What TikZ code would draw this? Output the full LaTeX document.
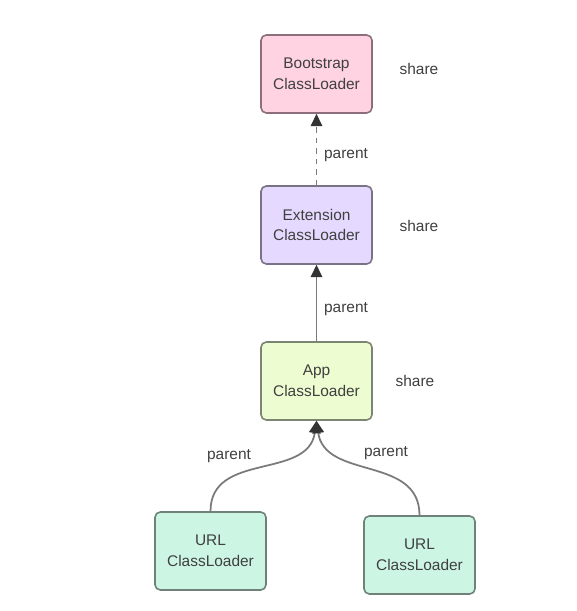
\documentclass[tikz,border=0pt]{standalone}
\usepackage{fontspec}
\setmainfont{Liberation Sans}
\usepackage{xcolor}
\usepackage{tikz}
\usetikzlibrary{arrows.meta,positioning,calc}
\definecolor{bootfill}{HTML}{FFD3E1}
\definecolor{bootline}{HTML}{8C6E7C}
\definecolor{extfill}{HTML}{E6D9FF}
\definecolor{extline}{HTML}{7A7388}
\definecolor{appfill}{HTML}{EEFCD2}
\definecolor{appline}{HTML}{7C8472}
\definecolor{urlfill}{HTML}{CCF6E3}
\definecolor{urlline}{HTML}{6F8279}
\definecolor{linkgray}{HTML}{7A7A7A}
\tikzset{loader/.style={draw,rectangle,rounded corners=3pt,line width=0.9pt,minimum width=2.22cm,minimum height=1.56cm,align=center,text=black!75,font=\fontsize{8.8}{11.8}\selectfont}}

\begin{document}
\begin{tikzpicture}[x=0.02cm, y=-0.02cm, >={Triangle[length=7pt,width=6.5pt,color=black!80]}, semithick]
        \tikzstyle{lbl}=[text=black!75,font=\fontsize{8.8}{11}\selectfont]
        \tikzstyle{link}=[draw=linkgray,line width=1pt,->]
        \useasboundingbox (0,0) rectangle (576,611);
        \node[loader,fill=bootfill,draw=bootline] (B) at (316.5,74) {Bootstrap\\ClassLoader};
        \node[loader,fill=extfill,draw=extline] (E) at (316.5,225) {Extension\\ClassLoader};
        \node[loader,fill=appfill,draw=appline] (A) at (316.5,381) {App\\ClassLoader};
        \node[loader,fill=urlfill,draw=urlline] (U1) at (210.5,551) {URL\\ClassLoader};
        \node[loader,fill=urlfill,draw=urlline] (U2) at (419.5,555) {URL\\ClassLoader};
        \node[lbl] (SB) at (419,69) {share};
        \node[lbl] (SE) at (419,226) {share};
        \node[lbl] (SA) at (415,381) {share};
        \node[lbl] (PB) at (346,155) {parent};
        \node[lbl] (PE) at (346,309) {parent};
        \node[lbl] (P1) at (229,456) {parent};
        \node[lbl] (P2) at (386,453) {parent};
        \path (E.north) edge[link,dashed] node {} (B.south);
        \path (A.north) edge[link] node {} (E.south);
        \path (U1.north) edge[link,out=90,in=-98,looseness=1.1] node {} (A.south);
        \path (U2.north) edge[link,out=90,in=-82,looseness=1.1] node {} (A.south);
\end{tikzpicture}
\end{document}
